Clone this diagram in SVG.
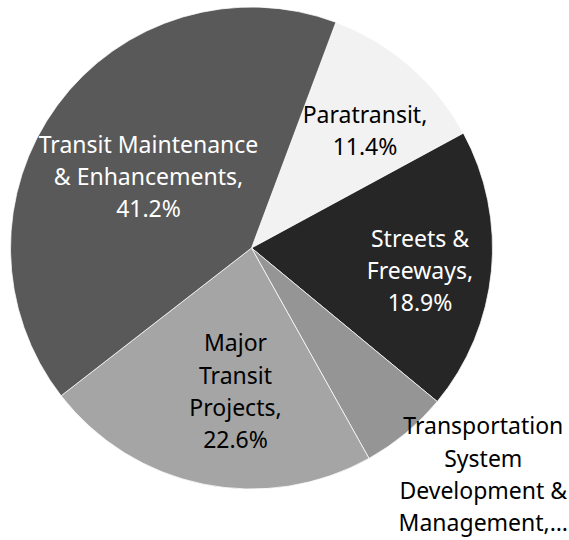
<svg xmlns="http://www.w3.org/2000/svg" width="569" height="540" viewBox="0 0 569 540">
<style>
.s{stroke:#ffffff;stroke-width:0.75;stroke-linejoin:round}
text{font-family:"Noto Sans","Open Sans","Liberation Sans",sans-serif;font-size:23px;text-anchor:middle}
.w{fill:#ffffff}
.k{fill:#000000}
</style>
<rect width="569" height="540" fill="#ffffff"/>
<g id="paratransit">
<path class="s" fill="#f2f2f2" d="M251.5,248 L335.90,22.26 A241,241 0 0 1 463.38,133.15 Z"/>
<text class="k" x="365" y="122.8">Paratransit,</text>
<text class="k" x="365" y="155.1">11.4%</text>
</g>
<g id="streets">
<path class="s" fill="#262626" d="M251.5,248 L463.38,133.15 A241,241 0 0 1 437.25,401.56 Z"/>
<text class="w" x="420" y="246.7">Streets &amp;</text>
<text class="w" x="420" y="279">Freeways,</text>
<text class="w" x="420" y="311.3">18.9%</text>
</g>
<g id="tsdm">
<path class="s" fill="#959595" d="M251.5,248 L437.25,401.56 A241,241 0 0 1 369.00,458.42 Z"/>
<text class="k" x="483.3" y="434.3">Transportation</text>
<text class="k" x="483.3" y="466.6">System</text>
<text class="k" x="483.3" y="498.9">Development &amp;</text>
<text class="k" x="483.3" y="531.2">Management,…</text>
</g>
<g id="major">
<path class="s" fill="#a5a5a5" d="M251.5,248 L369.00,458.42 A241,241 0 0 1 61.12,395.78 Z"/>
<text class="k" x="235.5" y="351.2">Major</text>
<text class="k" x="235.5" y="383.5">Transit</text>
<text class="k" x="235.5" y="415.8">Projects,</text>
<text class="k" x="235.5" y="448.1">22.6%</text>
</g>
<g id="transit-maintenance">
<path class="s" fill="#595959" d="M251.5,248 L61.12,395.78 A241,241 0 0 1 335.90,22.26 Z"/>
<text class="w" x="148.5" y="152.7">Transit Maintenance</text>
<text class="w" x="148.5" y="185">&amp; Enhancements,</text>
<text class="w" x="148.5" y="217.3">41.2%</text>
</g>
<g id="connectors"/>
</svg>
